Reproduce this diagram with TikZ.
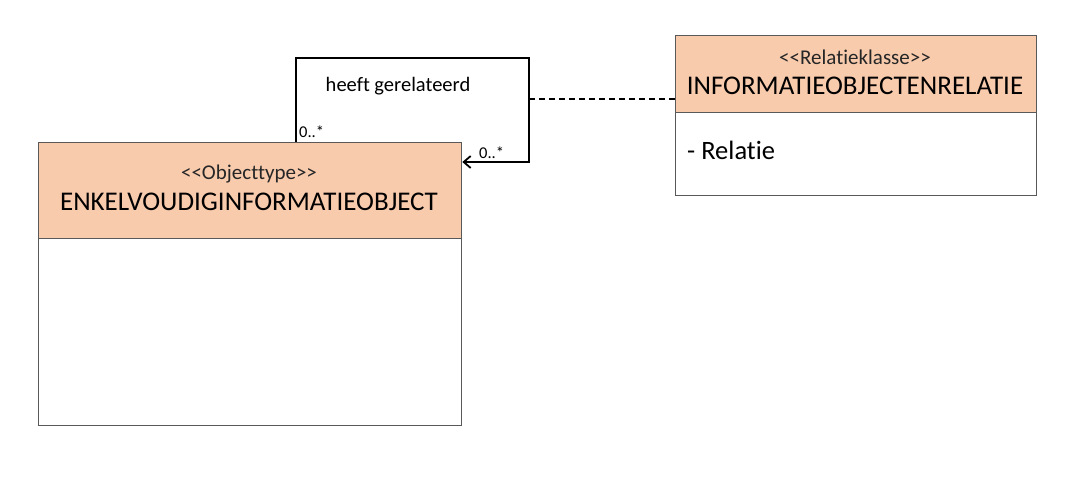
\documentclass[tikz,border=0pt]{standalone}
\usepackage{fontspec}
\setmainfont[Ligatures={TeXOff,NoCommon,NoRequired,NoContextual}]{Carlito}
\usetikzlibrary{arrows.meta}
\definecolor{peach}{HTML}{F8CBAD}
\definecolor{boxline}{HTML}{595959}
\definecolor{stereotxt}{HTML}{262626}
\tikzset{
  hdr/.style={draw=boxline, line width=1.3pt, fill=peach, anchor=north west, inner sep=0pt},
  bdy/.style={draw=boxline, line width=1.3pt, fill=white, anchor=north west, inner sep=0pt},
  assoc/.style={draw=black, line width=1.8pt},
  dep/.style={draw=black, line width=1.5pt, dash pattern=on 6pt off 4pt},
  lbl/.style={inner sep=0pt, font=\fontsize{20.5}{23}\selectfont},
  mult/.style={inner sep=0pt, font=\fontsize{16.5}{18}\selectfont},
  stereo/.style={inner sep=0pt, text=stereotxt, font=\fontsize{21}{24}\selectfont},
  cname/.style={inner sep=0pt, font=\fontsize{27}{30}\selectfont},
  attr/.style={inner sep=0pt, font=\fontsize{26.5}{30}\selectfont},
}
\newcommand{\lt}{<\kern0pt}
\newcommand{\gtr}{>\kern0pt}
\begin{document}
\begin{tikzpicture}[x=1pt,y=-1pt]
\useasboundingbox[fill=white] (0,0) rectangle (1071,497);
% left class
\node[hdr, minimum width=423pt, minimum height=96pt] (eh) at (38,142) {};
\node[bdy, minimum width=423pt, minimum height=187pt] (eb) at (38,238) {};
\node[stereo] (es) at (249,174) {\lt\lt Objecttype\gtr>};
\node[cname] (en) at (249,202) {ENKELVOUDIGINFORMATIEOBJECT};
% right class
\node[hdr, minimum width=361pt, minimum height=77pt] (ih) at (675,35) {};
\node[bdy, minimum width=361pt, minimum height=83pt] (ib) at (675,112) {};
\node[stereo] (is) at (855,57) {\lt\lt Relatieklasse\gtr>};
\node[cname] (in) at (855,86) {INFORMATIEOBJECTENRELATIE};
\node[attr, anchor=west] (ia) at (687,150) {- Relatie};
% association
\coordinate (a1) at (296,58);
\coordinate (a2) at (529,58);
\coordinate (a3) at (529,162);
\coordinate (dc) at (529,99);
\draw[assoc, -{Straight Barb[length=7pt,width=12pt,line width=1.8pt]}]
  (eh.north -| a1) -- (a1) -- (a2) -- (a3) -- (eh.east |- a3);
\draw[dep] (dc) -- (ih.west |- dc);
\node[lbl] (al) at (398,86) {heeft gerelateerd};
\node[mult, anchor=west] (m1) at (299,132) {0..*};
\node[mult, anchor=west] (m2) at (479,153) {0..*};
\end{tikzpicture}
\end{document}
